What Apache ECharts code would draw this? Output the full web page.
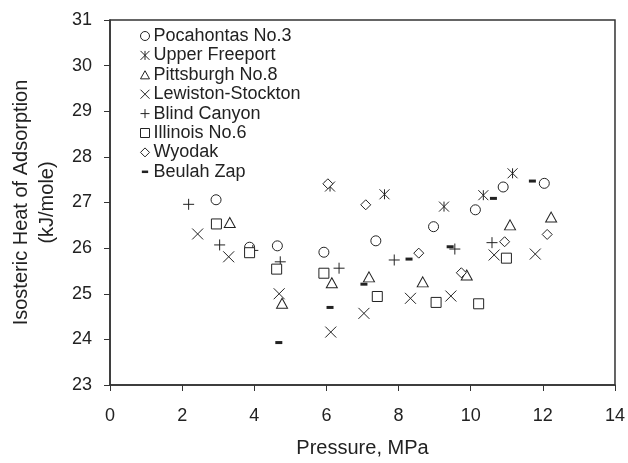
<!DOCTYPE html>
<html><head><meta charset="utf-8">
<script src="https://cdn.jsdelivr.net/npm/echarts@6/dist/echarts.min.js"></script>
<style>html,body{margin:0;padding:0;background:#fff}#c{width:628px;height:463px}</style>
</head><body><div id="c"></div>
<script>
const seriesNames = ["Pocahontas No.3","Upper Freeport","Pittsburgh No.8","Lewiston-Stockton","Blind Canyon","Illinois No.6","Wyodak","Beulah Zap"];
const pocahontas = [[2.94,27.06],[3.87,26.02],[4.64,26.05],[5.93,25.91],[7.37,26.16],[8.97,26.47],[10.13,26.84],[10.90,27.34],[12.04,27.42]];
const upperFreeport = [[6.10,27.35],[7.61,27.18],[9.26,26.91],[10.35,27.16],[11.16,27.64]];
const pittsburgh = [[3.32,26.56],[4.77,24.79],[6.15,25.24],[7.18,25.37],[8.67,25.26],[9.89,25.41],[11.09,26.51],[12.23,26.68]];
const lewiston = [[2.43,26.31],[3.29,25.81],[4.69,25.00],[6.12,24.16],[7.04,24.57],[8.33,24.90],[9.45,24.95],[10.65,25.85],[11.79,25.87]];
const blindCanyon = [[2.18,26.96],[3.04,26.07],[3.96,25.95],[4.72,25.70],[6.35,25.56],[7.88,25.74],[9.56,25.98],[10.59,26.12]];
const illinois = [[2.95,26.53],[3.87,25.90],[4.62,25.54],[5.93,25.45],[7.41,24.94],[9.04,24.81],[10.22,24.78],[10.99,25.78]];
const wyodak = [[6.04,27.41],[7.09,26.95],[8.56,25.89],[9.74,25.46],[10.94,26.14],[12.12,26.30]];
const beulahZap = [[4.68,23.93],[6.10,24.70],[7.04,25.21],[8.29,25.76],[9.43,26.03],[10.63,27.09],[11.71,27.47]];
const xTicks = {min:0,max:14,interval:2};
const yTicks = {min:23,max:31,interval:1};

const dataSets = [pocahontas,upperFreeport,pittsburgh,lewiston,blindCanyon,illinois,wyodak,beulahZap];
const ink = '#222';
const FONT = 'Liberation Sans, Arial, sans-serif';
const symbols = [
  {symbol:'circle', size:10, fill:'#fff', bw:1, icon:'circle'},
  {symbol:'path://M0,0L10,10M10,0L0,10M5,0L5,10', size:10, fill:'none', bw:1},
  {symbol:'path://M5,0L10,9L0,9Z', size:[11,10], fill:'#fff', bw:1},
  {symbol:'path://M0,0L10,10M10,0L0,10', size:11, fill:'none', bw:1},
  {symbol:'path://M5,0L5,10M0,5L10,5', size:11, fill:'none', bw:1},
  {symbol:'rect', size:10, fill:'#fff', bw:1},
  {symbol:'path://M5,0L10,5L5,10L0,5Z', size:10, fill:'#fff', bw:1},
  {symbol:'rect', size:[7,3], fill:ink, bw:0, icon:'path://M0,0M10,10M1.5,3.6L8.5,3.6L8.5,6.4L1.5,6.4Z'}
];

const series = seriesNames.map((n,i)=>({
  name:n, type:'scatter', data:dataSets[i],
  symbol:symbols[i].symbol, symbolSize:symbols[i].size,
  itemStyle:{color:symbols[i].fill, borderColor:ink, borderWidth:symbols[i].bw, opacity:1},
  emphasis:{disabled:true}
}));

const legendData = seriesNames.map((n,i)=>({
  name:n,
  icon: symbols[i].icon || symbols[i].symbol,
  itemStyle:{borderWidth:symbols[i].bw, borderColor:ink, color:symbols[i].fill}
}));

const chart = echarts.init(document.getElementById('c'), null, {renderer:'canvas'});
chart.setOption({
  animation:false,
  grid:{left:109,right:12,top:20,bottom:78,show:true,borderColor:'#333',borderWidth:1.5,backgroundColor:'transparent'},
  legend:{
    orient:'vertical', left:133, top:22, itemGap:1.4, itemWidth:9, itemHeight:9,
    textStyle:{fontFamily:FONT, fontSize:18, lineHeight:18, color:'#222', padding:[0,0,0,-1]},
    data:legendData
  },
  xAxis:{
    type:'value', min:xTicks.min, max:xTicks.max, interval:xTicks.interval,
    name:'Pressure, MPa', nameLocation:'middle', nameGap:53,
    nameTextStyle:{fontFamily:FONT, fontSize:20, color:'#222'},
    axisLine:{show:true,lineStyle:{color:'#333',width:1.5}},
    axisTick:{show:true,length:6,lineStyle:{color:'#333'}},
    axisLabel:{fontFamily:FONT, fontSize:18, color:'#222', margin:22},
    splitLine:{show:false}
  },
  yAxis:{
    type:'value', min:yTicks.min, max:yTicks.max, interval:yTicks.interval,
    name:'Isosteric Heat of Adsorption\n(kJ/mole)', nameLocation:'middle', nameGap:50, nameRotate:90,
    nameTextStyle:{fontFamily:FONT, fontSize:20, color:'#222', lineHeight:26},
    axisLine:{show:true,lineStyle:{color:'#333',width:1.5}},
    axisTick:{show:true,length:6,lineStyle:{color:'#333'}},
    axisLabel:{fontFamily:FONT, fontSize:18, color:'#222', margin:18},
    splitLine:{show:false}
  },
  series:series
});
</script></body></html>
